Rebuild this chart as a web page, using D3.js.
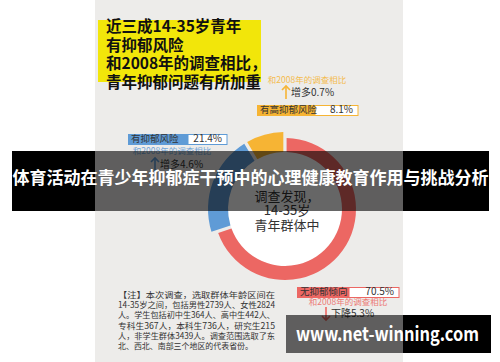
<!DOCTYPE html>
<html>
<head>
<meta charset="utf-8">
<script src="https://cdn.jsdelivr.net/npm/d3@7"></script>
<style>
  body { margin: 0; background: #fff; }
  text { font-family: "Noto Sans CJK SC", "Noto Sans", sans-serif; }
</style>
</head>
<body>
<div id="chart"></div>
<script>
// Survey shares (percent)
const categories = ["无抑郁倾向", "有抑郁风险", "有高抑郁风险"];
const values = [70.5, 21.4, 8.1];
const changes = ["下降5.3%", "增多4.6%", "增多0.7%"];
const titleLines = ["近三成14-35岁青年", "有抑郁风险", "和2008年的调查相比，", "青年抑郁问题有所加重"];
const centerLines = ["调查发现，", "14-35岁", "青年群体中"];
const noteLines = [
    "【注】本次调查，选取群体年龄区间在",
    "14-35岁之间，包括男性2739人、女性2824",
    "人。学生包括初中生364人、高中生442人、",
    "专科生367人，本科生736人，研究生215",
    "人，非学生群体3439人。调查范围选取了东",
    "北、西北、南部三个地区的代表省份。"
];
const bannerTitle = "体育活动在青少年抑郁症干预中的心理健康教育作用与挑战分析";
const watermark = "www.net-winning.com";

const colors = ["#ec6763", "#5f9bd6", "#f6b434"];
const width = 500, height = 362;

const svg = d3.select("#chart")
    .append("svg")
    .attr("width", width)
    .attr("height", height);

// Infographic panel
svg.append("rect")
    .attr("x", 95).attr("y", 0)
    .attr("width", 308).attr("height", height)
    .attr("fill", "#edecea");

// Yellow headline block
svg.append("rect")
    .attr("x", 98).attr("y", 20)
    .attr("width", 163).attr("height", 62)
    .attr("fill", "#f2e60a");

svg.append("g")
    .selectAll("text")
    .data(titleLines)
    .enter().append("text")
    .attr("x", 106)
    .attr("y", (d, i) => 32 + i * 18.5)
    .style("font-size", "15.5px")
    .style("font-weight", "bold")
    .attr("fill", "#111")
    .text(d => d);

// Donut
const cx = 285, cy = 209;
const pie = d3.pie().sort(null).padAngle(0.035).value(d => d);
const arcs = pie(values);
const outer = [71, 77, 77];
const arc = d3.arc()
    .innerRadius(57)
    .outerRadius(d => outer[d.index]);

const donut = svg.append("g")
    .attr("transform", `translate(${cx},${cy})`);

donut.append("circle")
    .attr("r", 57)
    .attr("fill", "#fff");

donut.selectAll("path")
    .data(arcs)
    .enter().append("path")
    .attr("d", arc)
    .attr("fill", (d, i) => colors[i]);

donut.selectAll(".center-label")
    .data(centerLines)
    .enter().append("text")
    .attr("class", "center-label")
    .attr("x", 2)
    .attr("y", (d, i) => -12 + i * 14.5)
    .attr("text-anchor", "middle")
    .attr("dominant-baseline", "middle")
    .style("font-size", "13px")
    .attr("fill", "#333")
    .text(d => d);

// Legend boxes with values
const boxes = [
    { x: 297, y: 287, w1: 52, w2: 50, ty: 303, ay: 307, dir: -1, ax: 326 },
    { x: 128, y: 134, w1: 60, w2: 39, ty: 152, ay: 158, dir: 1, ax: 155 },
    { x: 257, y: 105, w1: 58, w2: 43, ty: 81, ay: 86, dir: 1, ax: 286 }
];

categories.forEach((c, i) => {
    const b = boxes[i];
    const g = svg.append("g");
    g.append("rect")
        .attr("x", b.x).attr("y", b.y)
        .attr("width", b.w1).attr("height", 11)
        .attr("fill", colors[i]);
    g.append("rect")
        .attr("x", b.x + b.w1).attr("y", b.y + 0.5)
        .attr("width", b.w2).attr("height", 10)
        .attr("fill", "#fff")
        .attr("stroke", colors[i])
        .attr("stroke-width", 1);
    g.append("text")
        .attr("x", b.x + 3).attr("y", b.y + 5.5)
        .attr("dominant-baseline", "middle")
        .style("font-size", "9.5px")
        .attr("fill", "#333")
        .text(c);
    g.append("text")
        .attr("x", b.x + b.w1 + b.w2 - 5).attr("y", b.y + 5.5)
        .attr("text-anchor", "end")
        .attr("dominant-baseline", "middle")
        .style("font-size", "10px")
        .attr("fill", "#333")
        .text(values[i].toFixed(1) + "%");
    // comparison note
    const sub = i === 0 ? b.x + b.w1 / 2 + 25 : (i === 1 ? b.x + 44 : b.x + 50);
    g.append("text")
        .attr("x", sub).attr("y", b.ty)
        .attr("text-anchor", "middle")
        .attr("dominant-baseline", "middle")
        .style("font-size", "8.5px")
        .attr("fill", colors[i])
        .attr("opacity", 0.85)
        .text("和2008年的调查相比");
    // arrow
    const y1 = b.ay, y2 = b.ay + 13;
    const tip = b.dir > 0 ? y1 : y2;
    g.append("line")
        .attr("x1", b.ax).attr("x2", b.ax)
        .attr("y1", y1).attr("y2", y2)
        .attr("stroke", colors[i]).attr("stroke-width", 1.6);
    g.append("path")
        .attr("d", `M${b.ax - 4},${tip + b.dir * 4}L${b.ax},${tip}L${b.ax + 4},${tip + b.dir * 4}`)
        .attr("fill", "none")
        .attr("stroke", colors[i]).attr("stroke-width", 1.6);
    g.append("text")
        .attr("x", b.ax + 5).attr("y", b.ay + 7.5)
        .attr("dominant-baseline", "middle")
        .style("font-size", "10px")
        .attr("fill", "#333")
        .text(changes[i]);
});

// Footnote
svg.append("g")
    .selectAll("text")
    .data(noteLines)
    .enter().append("text")
    .attr("x", 118)
    .attr("y", (d, i) => 298 + i * 10.2)
    .attr("textLength", (d, i) => i === noteLines.length - 1 ? 135 : 157)
    .attr("lengthAdjust", "spacingAndGlyphs")
    .style("font-size", "8.4px")
    .attr("fill", "#333")
    .text(d => d);

// Title banner
function overlay(y, h, x0, x1) {
    svg.append("rect").attr("x", x0).attr("y", y).attr("width", 95 - x0).attr("height", h).attr("fill", "#000");
    svg.append("rect").attr("x", 95).attr("y", y).attr("width", 308).attr("height", h).attr("fill", "rgba(0,0,0,0.6)");
    svg.append("rect").attr("x", 403).attr("y", y).attr("width", x1 - 403).attr("height", h).attr("fill", "#000");
}
overlay(151, 60, 12, 489);

svg.append("text")
    .attr("x", 250.5)
    .attr("y", 179)
    .attr("text-anchor", "middle")
    .attr("dominant-baseline", "middle")
    .style("font-size", "17px")
    .style("font-weight", "bold")
    .attr("fill", "#fff")
    .text(bannerTitle);

// Watermark
svg.append("rect").attr("x", 286).attr("y", 315).attr("width", 117).attr("height", 38).attr("fill", "rgba(0,0,0,0.6)");
svg.append("rect").attr("x", 403).attr("y", 315).attr("width", 88).attr("height", 38).attr("fill", "#000");
svg.append("text")
    .attr("x", 387.5)
    .attr("y", 336)
    .attr("text-anchor", "middle")
    .attr("dominant-baseline", "middle")
    .attr("textLength", 183)
    .attr("lengthAdjust", "spacingAndGlyphs")
    .style("font-size", "19px")
    .style("font-weight", "bold")
    .attr("fill", "#fff")
    .text(watermark);
</script>
</body>
</html>
